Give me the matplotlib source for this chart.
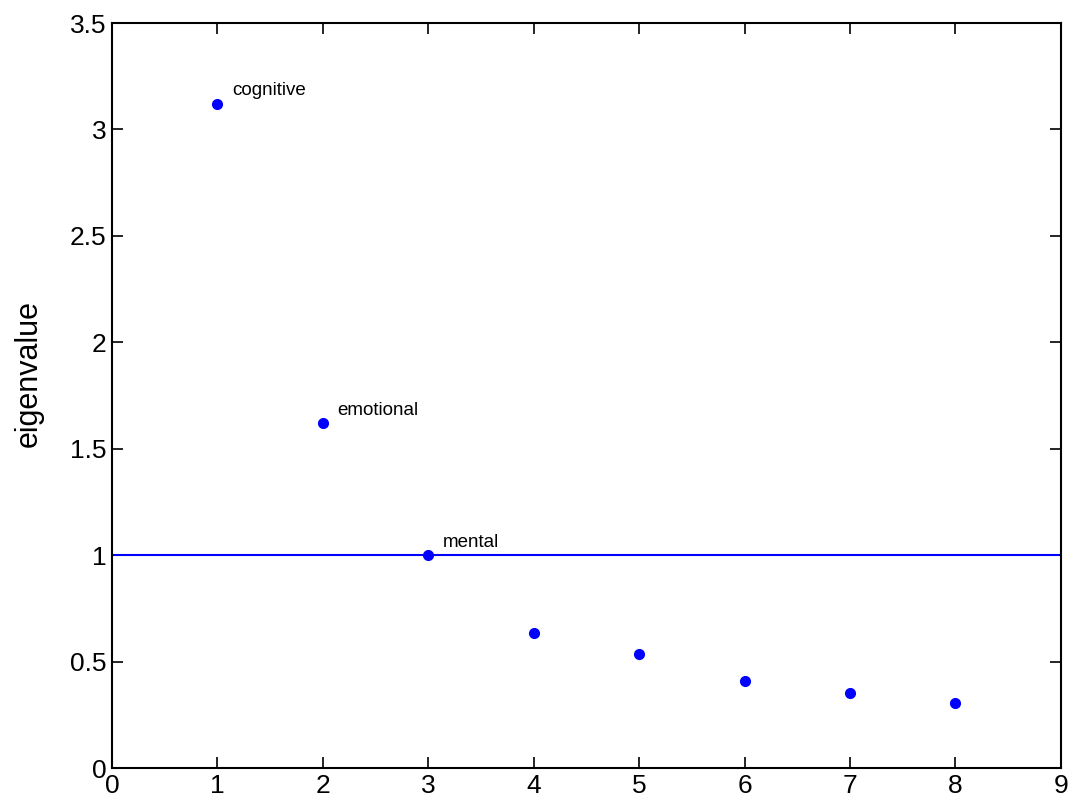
import matplotlib
matplotlib.use("Agg")
from matplotlib import pyplot as plt

plt.rcParams["font.family"] = ["Liberation Sans", "DejaVu Sans"]

components = [1, 2, 3, 4, 5, 6, 7, 8]
eigenvalues = [3.12, 1.62, 1.00, 0.634, 0.535, 0.41, 0.352, 0.305]
labels = ["cognitive", "emotional", "mental"]
threshold = 1.0

fig = plt.figure(figsize=(10.72, 8.08), dpi=100)
ax = fig.add_axes([0.1045, 0.0495, 0.885, 0.922])

ax.axhline(threshold, color="#0000ff", linewidth=1.5)
ax.plot(components, eigenvalues, "o", color="#0000ff", markersize=7)

for x, y, name in zip(components, eigenvalues, labels):
    ax.text(x + 0.14, y + 0.04, name, fontsize=13.5, color="black")

ax.set_xlim(0, 9)
ax.set_ylim(0, 3.5)
ax.set_xticks(range(0, 10))
ax.set_yticks([0, 0.5, 1, 1.5, 2, 2.5, 3, 3.5])
ax.set_yticklabels(["0", "0.5", "1", "1.5", "2", "2.5", "3", "3.5"])
ax.tick_params(direction="in", top=True, right=True, labelsize=19, length=8, width=1.2, pad=4)
for s in ax.spines.values():
    s.set_linewidth(1.5)
ax.set_ylabel("eigenvalue", fontsize=22)
ax.yaxis.set_label_coords(-0.072, 0.53)

fig.savefig("out.png", dpi=100)
